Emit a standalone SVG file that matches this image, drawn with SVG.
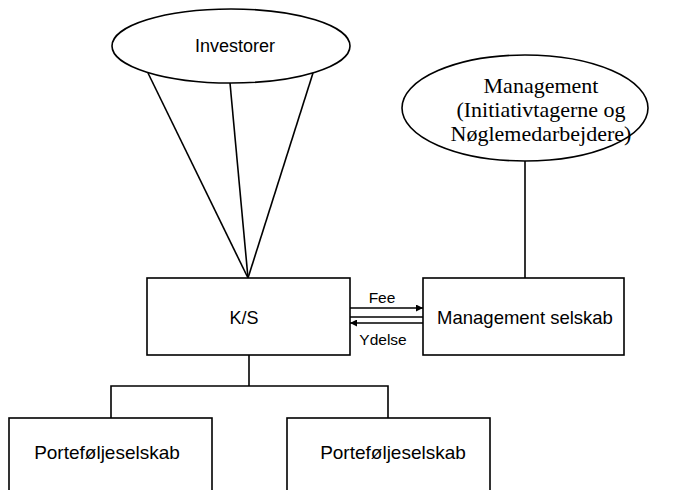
<svg xmlns="http://www.w3.org/2000/svg" width="675" height="490" viewBox="0 0 675 490">
<defs>
<marker id="ah" viewBox="0 0 10 10" refX="10" refY="5" markerWidth="8" markerHeight="7" markerUnits="userSpaceOnUse" orient="auto">
<path d="M0,0 L10,5 L0,10 z" fill="#000"/>
</marker>
<style>
.shape{fill:#fff;stroke:#000;stroke-width:1.6}
.ln{fill:none;stroke:#000;stroke-width:1.6}
.sans{font-family:"Liberation Sans",Arial,sans-serif;fill:#000;text-anchor:middle}
.serif{font-family:"Liberation Serif","Times New Roman",serif;fill:#000;text-anchor:middle;font-size:22px}
</style>
</defs>
<rect width="675" height="490" fill="#fff"/>
<g id="connectors">
<line class="ln" x1="148" y1="73" x2="248" y2="278"/>
<line class="ln" x1="230" y1="83" x2="248" y2="278"/>
<line class="ln" x1="313" y1="73" x2="248" y2="278"/>
<line class="ln" x1="525" y1="161" x2="525" y2="278"/>
<line class="ln" x1="350" y1="308" x2="423" y2="308" marker-end="url(#ah)"/>
<line class="ln" x1="350" y1="317" x2="423" y2="317"/>
<line class="ln" x1="423" y1="323" x2="350" y2="323" marker-end="url(#ah)" stroke-width="1.2"/>
<text class="sans" x="382" y="303" font-size="15.5">Fee</text>
<text class="sans" x="383" y="345" font-size="15.5">Ydelse</text>
<polyline class="ln" points="249,355 249,386"/>
<polyline class="ln" points="111,418 111,386 388,386 388,418"/>
</g>
<g id="investorer">
<ellipse class="shape" cx="231" cy="46" rx="119" ry="37"/>
<text class="sans" x="235" y="52" font-size="18">Investorer</text>
</g>
<g id="management">
<ellipse class="shape" cx="525" cy="108" rx="123" ry="53"/>
<text class="serif" x="541" y="93">Management</text>
<text class="serif" x="541" y="117">(Initiativtagerne og</text>
<text class="serif" x="541" y="141">Nøglemedarbejdere)</text>
</g>
<g id="ks">
<rect class="shape" x="147" y="278" width="203" height="77"/>
<text class="sans" x="244" y="324" font-size="18">K/S</text>
</g>
<g id="management-selskab">
<rect class="shape" x="423" y="278" width="201" height="77"/>
<text class="sans" x="525" y="324" font-size="18.5">Management selskab</text>
</g>
<g id="portefolje1">
<rect class="shape" x="9" y="418" width="203" height="90"/>
<text class="sans" x="107" y="459" font-size="19">Porteføljeselskab</text>
</g>
<g id="portefolje2">
<rect class="shape" x="287" y="418" width="203" height="90"/>
<text class="sans" x="393" y="459" font-size="19">Porteføljeselskab</text>
</g>
</svg>
